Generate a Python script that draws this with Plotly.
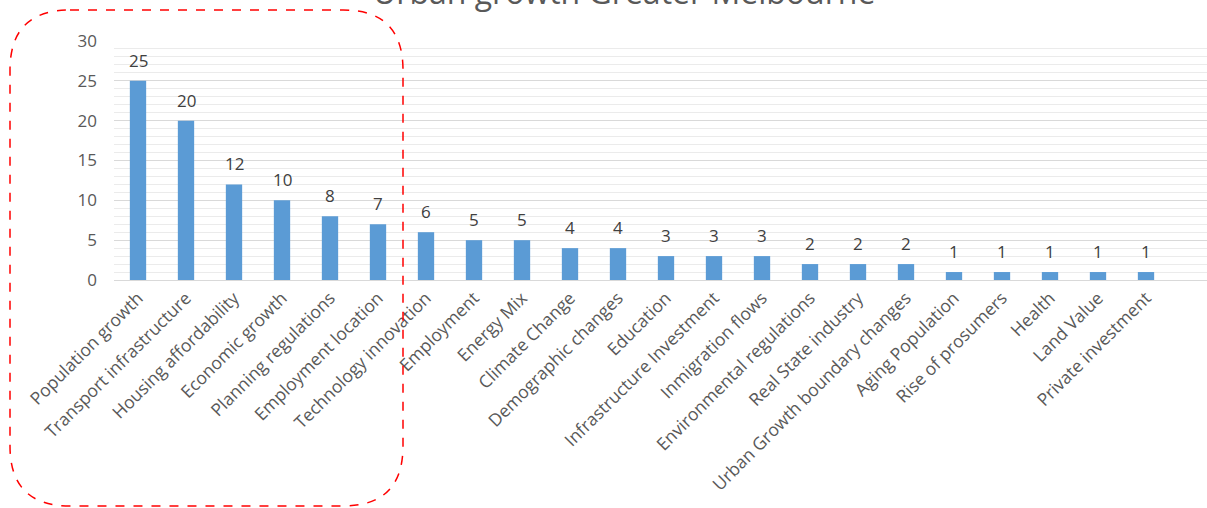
import plotly.graph_objects as go

categories = ["Population growth", "Transport infrastructure", "Housing affordability",
              "Economic growth", "Planning regulations", "Employment location",
              "Technology innovation", "Employment", "Energy Mix", "Climate Change",
              "Demographic changes", "Education", "Infrastructure Investment",
              "Inmigration flows", "Environmental regulations", "Real State industry",
              "Urban Growth boundary changes", "Aging Population", "Rise of prosumers",
              "Health", "Land Value", "Private investment"]
values = [25, 20, 12, 10, 8, 7, 6, 5, 5, 4, 4, 3, 3, 3, 2, 2, 2, 1, 1, 1, 1, 1]
title_text = "Urban growth Greater Melbourne"

W, H = 1207, 508
L, R, T, B = 114, 0, 41, 228
pw, ph = W - L - R, H - T - B

def px(x):
    return (x - L) / pw

def py(y):
    return (H - B - y) / ph

xs = list(range(len(categories)))

fig = go.Figure()
fig.add_trace(go.Bar(
    x=xs, y=values,
    marker=dict(color="#5b9bd5", line=dict(width=0)),
    width=0.34,
))

for xi, v in zip(xs, values):
    fig.add_annotation(x=xi, y=v, text=str(v), showarrow=False,
                       xanchor="center", yanchor="bottom", yshift=7,
                       font=dict(size=17, color="#404040", family="Open Sans"))

# rounded dashed red rectangle
x0, x1, y0, y1, r = 10, 403, 10, 506, 60
path = (f"M {px(x0 + r)},{py(y0)} L {px(x1 - r)},{py(y0)} "
        f"Q {px(x1)},{py(y0)} {px(x1)},{py(y0 + r)} "
        f"L {px(x1)},{py(y1 - r)} Q {px(x1)},{py(y1)} {px(x1 - r)},{py(y1)} "
        f"L {px(x0 + r)},{py(y1)} Q {px(x0)},{py(y1)} {px(x0)},{py(y1 - r)} "
        f"L {px(x0)},{py(y0 + r)} Q {px(x0)},{py(y0)} {px(x0 + r)},{py(y0)} Z")
fig.add_shape(type="path", path=path, xref="paper", yref="paper",
              line=dict(color="#ff0000", width=1.5, dash="dash"), layer="above")

fig.add_annotation(text=title_text, xref="paper", yref="paper",
                   x=px(624), y=py(15), xanchor="center", yanchor="bottom",
                   showarrow=False,
                   font=dict(size=32, color="#595959", family="Open Sans"))

fig.update_layout(
    width=W, height=H,
    margin=dict(l=L, r=R, t=T, b=B, pad=0),
    plot_bgcolor="white", paper_bgcolor="white",
    showlegend=False,
    font=dict(family="Open Sans", color="#595959"),
    xaxis=dict(
        range=[-0.5, (W - L) / 48 - 0.5],
        tickmode="array", tickvals=xs, ticktext=categories,
        tickangle=-45, tickfont=dict(size=17.5, color="#595959"),
        showgrid=False, zeroline=False,
        showline=True, linecolor="#d9d9d9", linewidth=1,
        ticks="", fixedrange=True,
    ),
    yaxis=dict(
        range=[0, 30], dtick=5, tick0=0,
        tickfont=dict(size=17, color="#595959"),
        showgrid=True, gridcolor="#d9d9d9", gridwidth=1,
        minor=dict(dtick=1, showgrid=True, gridcolor="#ebebeb", gridwidth=1),
        zeroline=False, showline=False,
        ticklabelstandoff=16,
    ),
)

fig.write_html("out.html")
